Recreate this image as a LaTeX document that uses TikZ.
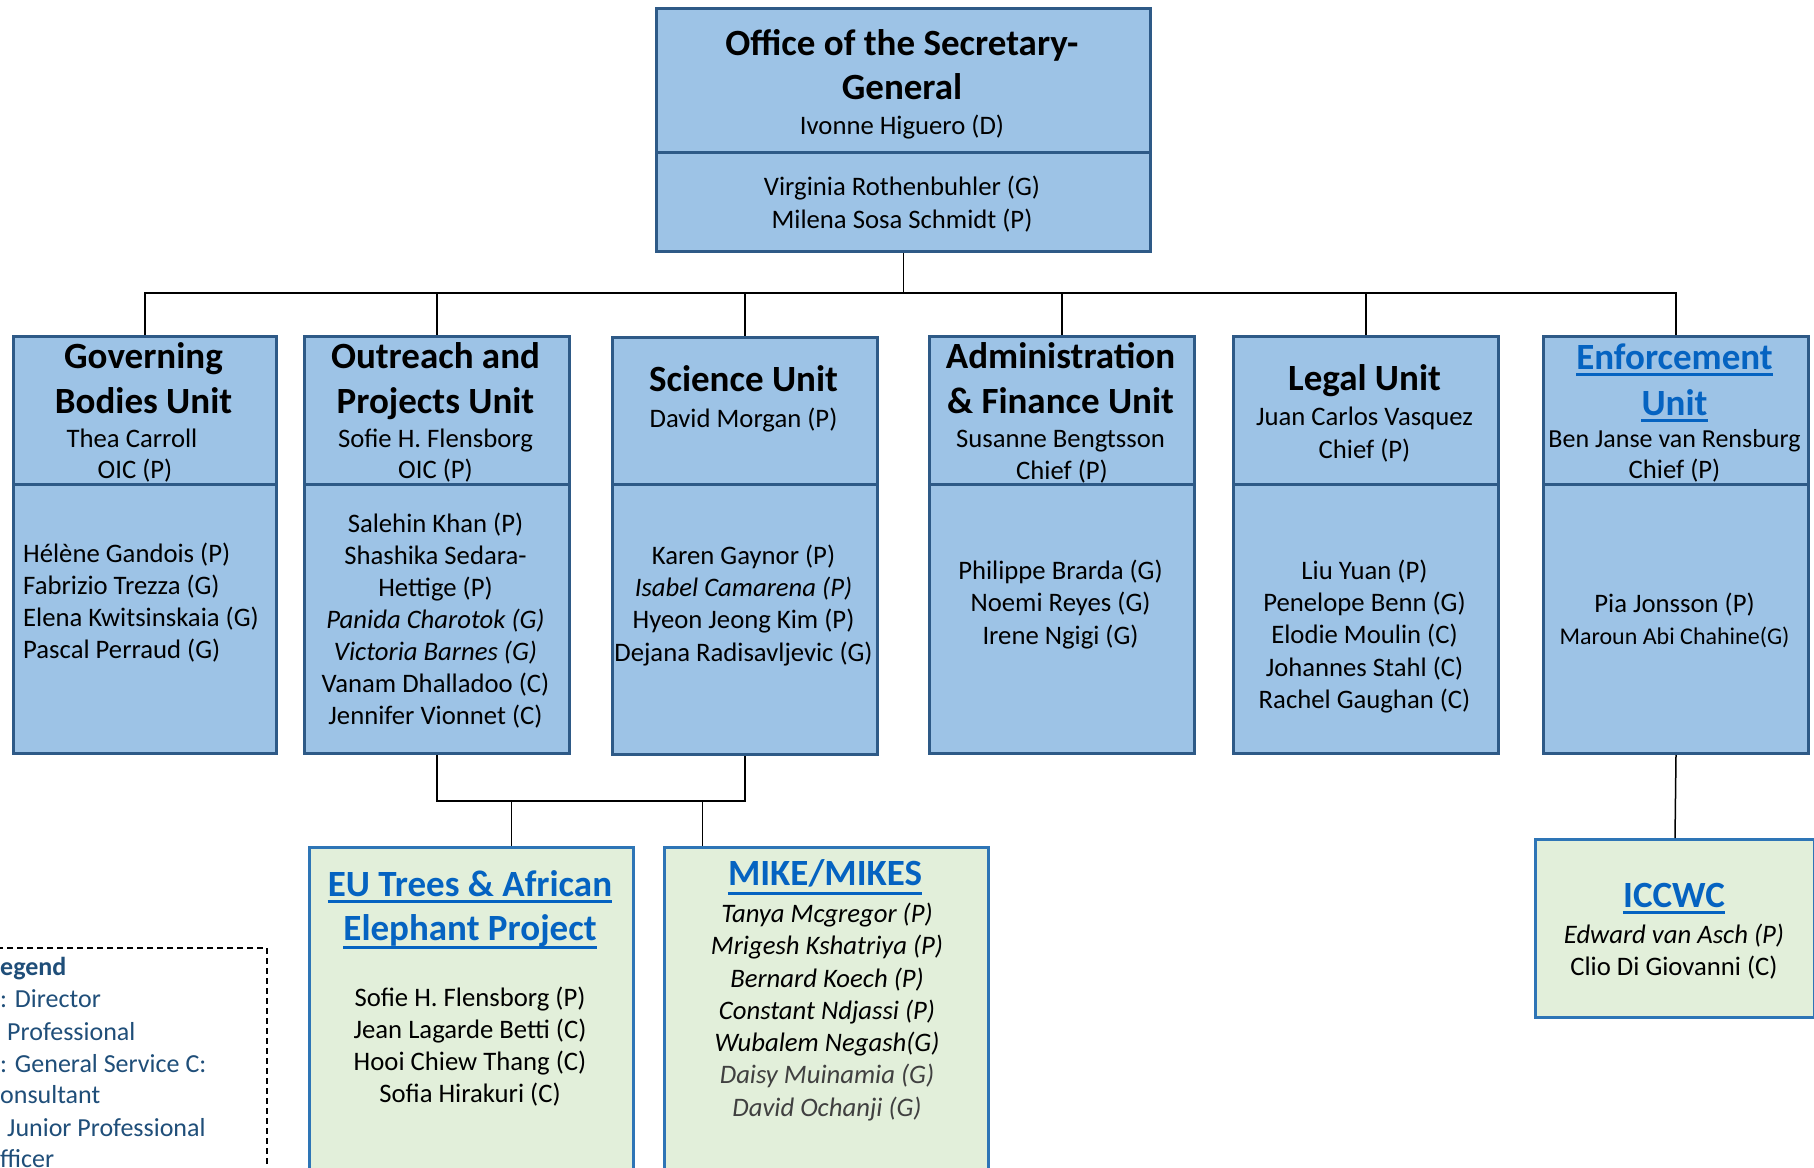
\documentclass[tikz,border=0pt]{standalone}
\usepackage{fontspec}
\setmainfont{Carlito}
\definecolor{ufill}{HTML}{9DC3E6}
\definecolor{ubord}{HTML}{2E5A87}
\definecolor{gfill}{HTML}{E2EFDA}
\definecolor{gbord}{HTML}{2E75B6}
\definecolor{linkblue}{HTML}{0563C1}
\definecolor{legc}{HTML}{1F4E79}
\definecolor{dgray}{HTML}{404040}
\begin{document}
\begin{tikzpicture}[x=1pt,y=-1pt,
 ubox/.style={draw=ubord, fill=ufill, line width=3pt, anchor=north west, inner sep=0pt},
 gbox/.style={draw=gbord, fill=gfill, line width=3pt, anchor=north west, inner sep=0pt},
 divl/.style={draw=ubord, line width=3pt},
 conn/.style={draw=black, line width=1.5pt},
 body/.style={inner sep=0pt, anchor=mid, yshift=-5pt, font=\fontsize{26.7}{32}\selectfont},
 ttl/.style={inner sep=0pt, anchor=mid, yshift=-8pt, font=\bfseries\fontsize{37}{45}\selectfont},
 lnk/.style={ttl, text=linkblue},
 uline/.style={draw=linkblue, line width=2.5pt},
 legt/.style={inner sep=0pt, anchor=mid west, yshift=-5pt, text=legc, font=\fontsize{26}{32}\selectfont}
]
\useasboundingbox (0,0) rectangle (1814,1167);
\clip (0,0) rectangle (1814,1167);
\fill[white] (0,0) rectangle (1814,1167);

\coordinate (tdiv) at (0,152);
\coordinate (udiv) at (0,484);
\coordinate (bus) at (0,293);
\coordinate (bus2) at (0,801);

% boxes
\node[ubox, minimum width=494pt, minimum height=243pt] (osg) at (655,7) {};
\node[ubox, minimum width=263pt, minimum height=417pt] (gb) at (12,335) {};
\node[ubox, minimum width=265pt, minimum height=417pt] (or) at (303,335) {};
\node[ubox, minimum width=265pt, minimum height=417pt] (sci) at (611,336) {};
\node[ubox, minimum width=265pt, minimum height=417pt] (adm) at (928,335) {};
\node[ubox, minimum width=265pt, minimum height=417pt] (leg) at (1232,335) {};
\node[ubox, minimum width=265pt, minimum height=417pt] (enf) at (1542,335) {};
\node[gbox, minimum width=324pt, minimum height=400pt] (eu) at (308,846) {};
\node[gbox, minimum width=324pt, minimum height=400pt] (mike) at (663,846) {};
\node[gbox, minimum width=279pt, minimum height=178pt] (iccwc) at (1534,838) {};

% Office of the Secretary-General
\node[ttl] (osg-t1) at (902,45) {Office of the Secretary-};
\node[ttl] (osg-t2) at (902,89) {General};
\node[body] (osg-h) at (902,127) {Ivonne Higuero (D)};
\node[body] (osg-n1) at (902,188) {Virginia Rothenbuhler (G)};
\node[body] (osg-n2) at (902,221) {Milena Sosa Schmidt (P)};

% Governing Bodies
\node[ttl] (gb-t1) at (143.5,358) {Governing};
\node[ttl] (gb-t2) at (143.5,403) {Bodies Unit};
\node[body] (gb-h1) at (132,440) {Thea Carroll};
\node[body] (gb-h2) at (135,471) {OIC (P)};
\foreach \t [count=\i from 0] in {H\'el\`ene Gandois (P), Fabrizio Trezza (G), Elena Kwitsinskaia (G), Pascal Perraud (G)}
  \node[body, anchor=mid west] (gb-n\i) at (23,{555+32*\i}) {\t};

% Outreach
\node[ttl] (or-t1) at (435.5,358) {Outreach and};
\node[ttl] (or-t2) at (435.5,403) {Projects Unit};
\node[body] (or-h1) at (435.5,440) {Sofie H. Flensborg};
\node[body] (or-h2) at (435.5,471) {OIC (P)};
\foreach \t [count=\i from 0] in {Salehin Khan (P), Shashika Sedara-, Hettige (P), \textit{Panida Charotok (G)}, \textit{Victoria Barnes (G)}, Vanam Dhalladoo (C), Jennifer Vionnet (C)}
  \node[body] (or-n\i) at (435.5,{525+32*\i}) {\t};

% Science
\node[ttl] (sci-t1) at (743.5,381) {Science Unit};
\node[body] (sci-h1) at (743.5,420) {David Morgan (P)};
\foreach \t [count=\i from 0] in {Karen Gaynor (P), \textit{Isabel Camarena (P)}, Hyeon Jeong Kim (P), Dejana Radisavljevic (G)}
  \node[body] (sci-n\i) at (743.5,{557+32.3*\i}) {\t};

% Administration
\node[ttl] (adm-t1) at (1060.5,358) {Administration};
\node[ttl] (adm-t2) at (1060.5,403) {\& Finance Unit};
\node[body] (adm-h1) at (1060.5,440) {Susanne Bengtsson};
\node[body] (adm-h2) at (1062,472) {Chief (P)};
\foreach \t [count=\i from 0] in {Philippe Brarda (G), Noemi Reyes (G), Irene Ngigi (G)}
  \node[body] (adm-n\i) at (1060.5,{572+32.5*\i}) {\t};

% Legal
\node[ttl] (leg-t1) at (1364.5,380) {Legal Unit};
\node[body] (leg-h1) at (1364.5,418) {Juan Carlos Vasquez};
\node[body] (leg-h2) at (1364.5,451) {Chief (P)};
\foreach \t [count=\i from 0] in {Liu Yuan (P), Penelope Benn (G), Elodie Moulin (C), Johannes Stahl (C), Rachel Gaughan (C)}
  \node[body] (leg-n\i) at (1364.5,{572+32.3*\i}) {\t};

% Enforcement
\node[lnk] (enf-t1) at (1674.5,359) {Enforcement};
\node[lnk] (enf-t2) at (1674.5,405) {Unit};
\node[body, font=\fontsize{26}{32}\selectfont] (enf-h1) at (1674.5,440) {Ben Janse van Rensburg};
\node[body] (enf-h2) at (1674.5,471) {Chief (P)};
\node[body] (enf-n0) at (1674.5,605) {Pia Jonsson (P)};
\node[body, font=\fontsize{24}{30}\selectfont] (enf-n1) at (1674.5,637) {Maroun Abi Chahine(G)};

% EU Trees
\node[lnk] (eu-t1) at (470,886) {EU Trees \& African};
\node[lnk] (eu-t2) at (470,930) {Elephant Project};
\foreach \t [count=\i from 0] in {Sofie H. Flensborg (P), Jean Lagarde Betti (C), Hooi Chiew Thang (C), Sofia Hirakuri (C)}
  \node[body] (eu-n\i) at (470,{999+32*\i}) {\t};

% MIKE
\node[lnk] (mike-t1) at (825,875) {MIKE/MIKES};
\foreach \t [count=\i from 0] in {Tanya Mcgregor (P), Mrigesh Kshatriya (P), Bernard Koech (P), Constant Ndjassi (P), Wubalem Negash(G), {\textcolor{dgray}{Daisy Muinamia (G)}}, {\textcolor{dgray}{David Ochanji (G)}}}
  \node[body, font=\itshape\fontsize{26.7}{32}\selectfont] (mike-n\i) at (827,{915+32.3*\i}) {\t};

% ICCWC
\node[lnk] (ic-t1) at (1674,897) {ICCWC};
\node[body] (ic-n0) at (1674,936) {\textit{Edward van Asch (P)}};
\node[body] (ic-n1) at (1674,968) {Clio Di Giovanni (C)};

% underlines
\foreach \n/\d in {enf-t1/5, enf-t2/5, eu-t1/5, eu-t2/7, mike-t1/8, ic-t1/5}
  \draw[uline] ([yshift=-\d pt]\n.base west) -- ([yshift=-\d pt]\n.base east);

% dividers
\draw[divl] (osg.west |- tdiv) -- (osg.east |- tdiv);
\foreach \u in {gb,or,sci,adm,leg,enf}
  \draw[divl] (\u.west |- udiv) -- (\u.east |- udiv);

% connectors
\foreach \u in {gb,or,sci,adm,leg,enf}
  \draw[conn] (osg.south) -- (osg.south |- bus) -| (\u.north);
\draw[conn] (or.south) -- (or.south |- bus2) -- (sci.south |- bus2) -- (sci.south);
\coordinate (eutap) at ([xshift=40pt]eu.north);
\coordinate (miketap) at ([xshift=-124pt]mike.north);
\draw[conn] (eutap |- bus2) -- (eutap);
\draw[conn] (miketap |- bus2) -- (miketap);
\draw[conn] (enf.south) -- (iccwc.north);

% legend
\node[draw=black, line width=1.5pt, dash pattern=on 6pt off 4pt, anchor=north west, minimum width=306pt, minimum height=260pt, inner sep=0pt] (legbox) at (-40,947) {};
\node[legt, font=\bfseries\fontsize{26}{32}\selectfont] (lg0) at (0,968) {\llap{L}egend};
\node[legt] (lg1) at (0,1000) {\llap{D}: Director};
\node[legt] (lg2) at (7,1033) {\llap{P: }Professional};
\node[legt] (lg3) at (0,1065) {\llap{G}: General Service C:};
\node[legt] (lg4) at (0,1096) {\llap{C}onsultant};
\node[legt] (lg5) at (7,1129) {\llap{JPO: }Junior Professional};
\node[legt] (lg6) at (0,1160) {\llap{O}fficer};
\end{tikzpicture}
\end{document}
